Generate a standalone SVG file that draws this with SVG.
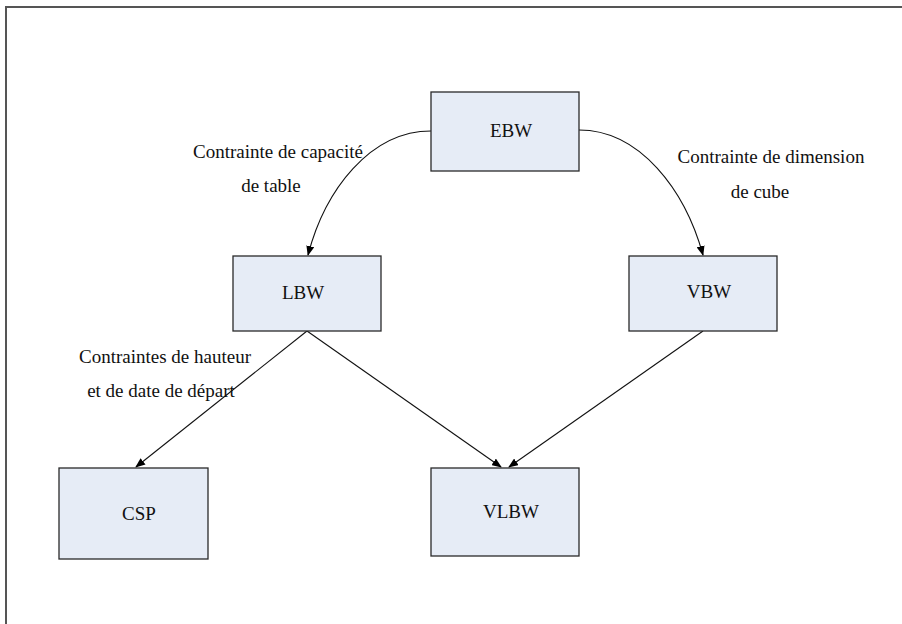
<svg xmlns="http://www.w3.org/2000/svg" width="902" height="624" viewBox="0 0 902 624">
<defs>
<marker id="arr" markerWidth="10" markerHeight="8" refX="9" refY="4" orient="auto" markerUnits="userSpaceOnUse">
<path d="M0,0 L10,4 L0,8 Z" fill="#000"/>
</marker>
<style>
.box{fill:#E6ECF6;stroke:#2a2a2a;stroke-width:1.3}
.c{fill:none;stroke:#111;stroke-width:1.1;marker-end:url(#arr)}
.frame{stroke:#555;stroke-width:2;fill:none}
</style>
</defs>
<rect width="902" height="624" fill="#fff"/>
<path class="frame" d="M6,624 L6,7 L902,7"/>
<g id="connectors">
<path class="c" d="M431,131 C370,131 325,190 308,255"/>
<path class="c" d="M579,130 C640,130 685,190 703,255"/>
<path class="c" d="M307,331 L136,467"/>
<path class="c" d="M307,331 L501,467"/>
<path class="c" d="M703,331 L509,467"/>
</g>
<g font-family="'Liberation Serif', 'Times New Roman', 'DejaVu Serif', serif" font-size="19" fill="#111" text-anchor="middle">
<g id="labels">
<text x="278" y="158">Contrainte de capacité</text>
<text x="271" y="192">de table</text>
<text x="771" y="163">Contrainte de dimension</text>
<text x="760" y="198">de cube</text>
<text x="165" y="363">Contraintes de hauteur</text>
<text x="161" y="397">et de date de départ</text>
</g>
<g id="EBW"><rect class="box" x="431" y="92" width="148" height="79"/><text x="511" y="137">EBW</text></g>
<g id="LBW"><rect class="box" x="233" y="256" width="148" height="75"/><text x="303" y="299">LBW</text></g>
<g id="VBW"><rect class="box" x="629" y="256" width="148" height="75"/><text x="709" y="298">VBW</text></g>
<g id="CSP"><rect class="box" x="59" y="468" width="149" height="91"/><text x="139" y="520">CSP</text></g>
<g id="VLBW"><rect class="box" x="431" y="468" width="148" height="88"/><text x="511" y="518">VLBW</text></g>
</g>
</svg>
